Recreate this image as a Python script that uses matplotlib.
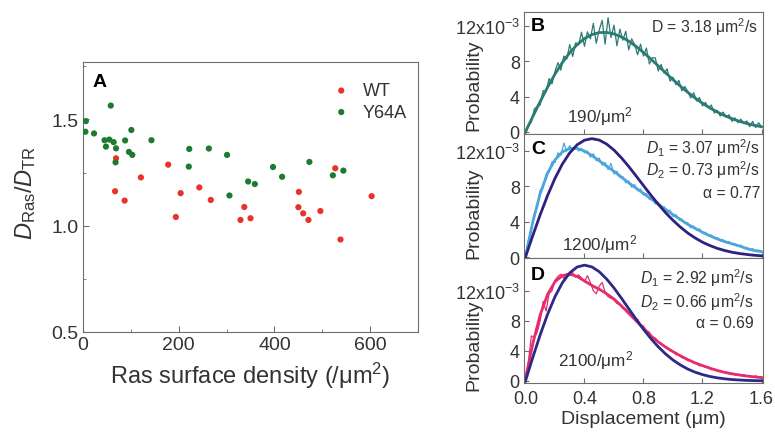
import numpy as np
import matplotlib
matplotlib.use('Agg')
import matplotlib.pyplot as plt
import matplotlib.ticker as mticker

plt.rcParams['font.family'] = ['Liberation Sans', 'DejaVu Sans']
plt.rcParams['mathtext.fontset'] = 'custom'
plt.rcParams['mathtext.rm'] = 'Liberation Sans'
plt.rcParams['mathtext.it'] = 'Liberation Sans:italic'
plt.rcParams['axes.edgecolor'] = '#6e6e6e'
plt.rcParams['xtick.color'] = '#6e6e6e'
plt.rcParams['ytick.color'] = '#6e6e6e'
plt.rcParams['xtick.labelcolor'] = '#333333'
plt.rcParams['ytick.labelcolor'] = '#333333'
plt.rcParams['text.color'] = '#333333'
plt.rcParams['axes.labelcolor'] = '#333333'

# --- Painel A: razão de difusão vs densidade de Ras ---
wt_densidade = [69, 67, 87, 121, 178, 194, 204, 243, 267, 329, 337, 350,
                451, 450, 460, 471, 496, 527, 538, 603]
wt_razao = [1.317, 1.162, 1.118, 1.227, 1.287, 1.041, 1.153, 1.180, 1.121, 1.027, 1.088, 1.035,
            1.159, 1.087, 1.058, 1.027, 1.069, 1.270, 0.935, 1.139]
y64a_densidade = [6, 5, 23, 58, 45, 55, 64, 48, 69, 68, 88, 101, 96, 103, 143,
                  222, 221, 263, 301, 306, 345, 359, 397, 416, 473, 522, 544]
y64a_razao = [1.492, 1.442, 1.434, 1.565, 1.402, 1.405, 1.393, 1.372, 1.364, 1.298, 1.401, 1.450,
              1.347, 1.333, 1.402, 1.361, 1.278, 1.363, 1.333, 1.142, 1.208, 1.196, 1.276, 1.230,
              1.300, 1.237, 1.259]

# --- Painéis B-D: distribuições de deslocamento (probabilidade em unidades de 1e-3) ---
# histograma em passos de 0.02 um, ajustes em passos de 0.05 um
desloc_hist = np.round(np.arange(81) * 0.02, 2)
desloc_ajuste = np.round(np.arange(33) * 0.05, 2)

hist_b = [0.0, 0.9, 1.1, 2.6, 2.9, 3.05, 4.7, 4.55, 6.05, 5.45, 6.85, 7.85, 7.0, 8.6, 8.25,
          9.9, 8.55, 10.1, 9.85, 11.3, 9.7, 11.35, 10.55, 12.3, 10.05, 11.55, 12.65, 9.95,
          12.95, 10.7, 12.1, 9.75, 11.65, 10.4, 11.4, 9.3, 10.55, 9.9, 8.75, 9.95, 8.6, 9.5,
          7.7, 8.4, 8.4, 6.9, 7.65, 6.65, 7.15, 5.75, 6.2, 5.35, 5.85, 4.65, 5.15, 4.6, 3.85,
          4.45, 3.5, 3.9, 2.95, 3.35, 2.75, 3.05, 2.15, 2.45, 1.8, 2.25, 1.7, 1.95, 1.2, 1.6,
          1.05, 1.45, 0.95, 1.25, 0.6, 1.2, 0.5, 1.05, 0.6]
ajuste_b = [0.0, 1.75, 3.45, 5.07, 6.55, 7.86, 8.98, 9.89, 10.58, 11.03, 11.26, 11.28, 11.11,
            10.77, 10.29, 9.69, 9.00, 8.26, 7.48, 6.70, 5.93, 5.19, 4.49, 3.84, 3.25, 2.72,
            2.26, 1.85, 1.50, 1.21, 0.96, 0.76, 0.59]

hist_c = [0.1, 1.9, 3.0, 4.9, 5.6, 7.6, 7.8, 9.4, 9.6, 10.8, 10.7, 11.8, 11.5, 12.9, 12.0,
          12.6, 12.1, 12.5, 12.0, 12.3, 11.8, 12.0, 11.3, 11.7, 10.9, 11.2, 10.4, 10.7, 9.9,
          10.6, 9.4, 9.7, 9.0, 9.1, 8.4, 8.6, 7.9, 8.2, 7.5, 7.7, 7.0, 7.2, 6.5, 6.7, 6.0,
          6.2, 5.6, 5.7, 5.1, 5.3, 4.6, 4.8, 4.2, 4.3, 3.8, 3.9, 3.3, 3.5, 3.0, 3.2, 2.7,
          2.8, 2.4, 2.5, 2.1, 2.2, 1.8, 1.95, 1.6, 1.75, 1.4, 1.5, 1.2, 1.35, 1.0, 1.1, 0.8,
          0.95, 0.6, 0.8, 0.6]
ajuste2_c = [0.0, 4.0, 7.2, 9.5, 11.0, 11.9, 12.3, 12.3, 12.0, 11.5, 10.9, 10.3, 9.7, 9.05,
             8.4, 7.8, 7.2, 6.6, 6.0, 5.4, 4.8, 4.25, 3.7, 3.25, 2.8, 2.4, 2.05, 1.75, 1.5,
             1.25, 0.95, 0.75, 0.6]
ajuste1_c = [0.0, 2.44, 4.79, 6.97, 8.90, 10.52, 11.79, 12.70, 13.23, 13.40, 13.24, 12.79,
             12.11, 11.24, 10.25, 9.18, 8.09, 7.01, 5.98, 5.02, 4.16, 3.39, 2.72, 2.16, 1.68,
             1.30, 0.98, 0.74, 0.54, 0.40, 0.29, 0.20, 0.14]

hist_d = [0.5, 2.5, 6.0, 5.8, 6.5, 8.0, 10.6, 9.3, 11.6, 12.0, 13.4, 13.9, 14.2, 13.6, 14.3,
          14.0, 14.4, 13.8, 14.1, 13.7, 13.2, 14.0, 13.1, 12.0, 11.6, 12.6, 13.1, 11.8, 11.2,
          11.0, 10.8, 10.3, 10.2, 9.6, 9.6, 9.1, 8.8, 8.4, 8.2, 7.5, 7.3, 6.7, 6.5, 5.8, 5.7,
          5.2, 5.0, 4.6, 4.5, 4.0, 3.9, 3.5, 3.5, 3.1, 3.0, 2.7, 2.7, 2.4, 2.4, 2.0, 2.1,
          1.8, 1.85, 1.5, 1.6, 1.3, 1.4, 1.1, 1.2, 0.95, 1.05, 0.8, 0.9, 0.7, 0.85, 0.6, 0.75,
          0.5, 0.7, 0.45, 0.55]
ajuste2_d = [0.3, 5.0, 8.8, 11.5, 13.2, 14.0, 14.2, 13.9, 13.3, 12.7, 12.2, 11.6, 10.9, 10.0,
             9.0, 8.0, 7.0, 6.0, 5.2, 4.5, 3.9, 3.35, 2.85, 2.4, 2.05, 1.7, 1.4, 1.15, 0.95,
             0.8, 0.65, 0.55, 0.45]
ajuste1_d = [0.0, 3.15, 6.15, 8.87, 11.20, 13.05, 14.37, 15.15, 15.40, 15.17, 14.53, 13.56,
             12.37, 11.02, 9.61, 8.21, 6.87, 5.64, 4.55, 3.59, 2.79, 2.13, 1.59, 1.17, 0.85,
             0.60, 0.42, 0.29, 0.19, 0.13, 0.08, 0.05, 0.03]

fig = plt.figure(figsize=(7.75, 4.35), dpi=100)

# Painel A
axA = fig.add_axes([0.1071, 0.2345, 0.4323, 0.6207])
axA.scatter(wt_densidade, wt_razao, s=20, color='#e8332a', edgecolors='none', label='WT', zorder=3)
axA.scatter(y64a_densidade, y64a_razao, s=20, color='#1e7a2e', edgecolors='none', label='Y64A', zorder=3)
axA.set_xlim(0, 700)
axA.set_ylim(0.5, 1.77)
axA.xaxis.set_major_locator(mticker.MultipleLocator(200))
axA.xaxis.set_minor_locator(mticker.MultipleLocator(100))
axA.yaxis.set_major_locator(mticker.MultipleLocator(0.5))
axA.yaxis.set_minor_locator(mticker.MultipleLocator(0.25))
axA.yaxis.set_major_formatter(mticker.FormatStrFormatter('%.1f'))
axA.tick_params(which='both', direction='in', labelsize=14, pad=3)
axA.tick_params(which='major', length=4)
axA.tick_params(which='minor', length=2.5)
axA.set_xlabel('Ras surface density (/μm$^2$)', fontsize=17, labelpad=5)
axA.set_ylabel(r'$\mathit{D}_{\mathrm{Ras}}/\mathit{D}_{\mathrm{TR}}$', fontsize=17)
axA.yaxis.set_label_coords(-0.134, 0.52)
axA.text(0.048, 0.926, 'A', transform=axA.transAxes, fontsize=14, fontweight='bold',
         ha='center', va='center', color='black')
leg = axA.legend(loc='upper left', bbox_to_anchor=(0.69, 0.985), frameon=False, fontsize=13,
                 handletextpad=0.6, labelspacing=0.25, markerscale=1.0, handlelength=1.2)

# Painéis B, C e D
cor_b = '#2a7b73'
cor_c = '#4aa6dc'
cor_d = '#e62c6c'
cor_roxo = '#2f2180'

esq, larg = 0.6761, 0.3084
axB = fig.add_axes([esq, 0.6897, larg, 0.2804])
axC = fig.add_axes([esq, 0.4046, larg, 0.2851])
axD = fig.add_axes([esq, 0.1172, larg, 0.2874])

axB.plot(desloc_hist, hist_b, color=cor_b, lw=0.9)
axB.plot(desloc_ajuste, ajuste_b, color=cor_b, lw=2.0)
axB.set_ylim(-0.23, 13.59)

axC.plot(desloc_hist, hist_c, color=cor_c, lw=0.9)
axC.plot(desloc_ajuste, ajuste2_c, color=cor_c, lw=2.0)
axC.plot(desloc_ajuste, ajuste1_c, color=cor_roxo, lw=2.0)
axC.set_ylim(-0.11, 13.93)

axD.plot(desloc_hist, hist_d, color=cor_d, lw=0.9)
axD.plot(desloc_ajuste, ajuste2_d, color=cor_d, lw=2.0)
axD.plot(desloc_ajuste, ajuste1_d, color='#2c2a86', lw=2.0)
axD.set_ylim(-0.27, 16.35)

rotulos_y = ['0', '4', '8', '12x10$^{-3}$']
for ax, yc in ((axB, 0.41), (axC, 0.367), (axD, 0.31)):
    ax.set_xlim(-0.01, 1.61)
    ax.set_yticks([0, 4, 8, 12])
    ax.set_yticklabels(rotulos_y)
    ax.set_xticks([0.0, 0.4, 0.8, 1.2, 1.6])
    ax.tick_params(direction='in', length=3.5, labelsize=13, pad=3)
    # rótulo deslocado para baixo para não colidir com "12x10^-3"
    ax.set_ylabel('Probability', fontsize=14)
    ax.yaxis.set_label_coords(-0.176, yc)

for ax in (axB, axC):
    ax.tick_params(labelbottom=False)

axD.tick_params(axis='x', pad=5)
axD.xaxis.set_major_formatter(mticker.FormatStrFormatter('%.1f'))
axD.set_xlabel('Displacement (μm)', fontsize=14, labelpad=2)

# rótulos dos painéis
for ax, letra, yl in ((axB, 'B', 0.888), (axC, 'C', 0.879), (axD, 'D', 0.866)):
    ax.text(0.058, yl, letra, transform=ax.transAxes, fontsize=14, fontweight='bold',
            ha='center', va='center', color='black')

# anotações dos ajustes
kw = dict(fontsize=11.3, ha='right', va='center')
axB.text(0.979, 0.885, 'D = 3.18 μm$^2$/s', transform=axB.transAxes, **kw)
axC.text(0.987, 0.895, r'$\mathit{D_1}$ = 3.07 μm$^2$/s', transform=axC.transAxes, **kw)
axC.text(0.987, 0.718, r'$\mathit{D_2}$ = 0.73 μm$^2$/s', transform=axC.transAxes, **kw)
axC.text(0.987, 0.532, 'α = 0.77', transform=axC.transAxes, **kw)
axD.text(0.962, 0.848, r'$\mathit{D_1}$ = 2.92 μm$^2$/s', transform=axD.transAxes, **kw)
axD.text(0.962, 0.658, r'$\mathit{D_2}$ = 0.66 μm$^2$/s', transform=axD.transAxes, **kw)
axD.text(0.962, 0.488, 'α = 0.69', transform=axD.transAxes, **kw)

kw2 = dict(fontsize=12.3, ha='center', va='center')
axB.text(0.318, 0.148, '190/μm$^2$', transform=axB.transAxes, **kw2)
axC.text(0.318, 0.113, '1200/μm$^2$', transform=axC.transAxes, **kw2)
axD.text(0.30, 0.19, '2100/μm$^2$', transform=axD.transAxes, **kw2)

plt.savefig('out.png', dpi=100, facecolor='white')
